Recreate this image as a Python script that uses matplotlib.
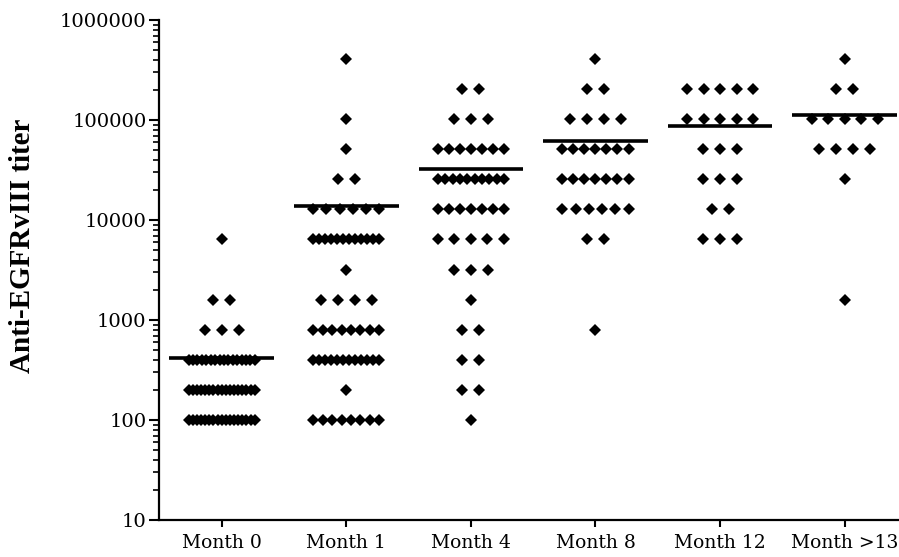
import numpy as np
import matplotlib.pyplot as plt
from matplotlib.ticker import LogLocator, FixedLocator, NullFormatter

# titer dilution steps and how many patients sit at each step, per visit
titers = [100, 200, 400, 800, 1600, 3200, 6400, 12800, 25600, 51200, 102400, 204800, 409600]
groups = ["Month 0", "Month 1", "Month 4", "Month 8", "Month 12", "Month >13"]

month0 = [17, 17, 16, 3, 2, 0, 1, 0, 0, 0, 0, 0, 0]
month1 = [8, 1, 12, 8, 4, 1, 12, 6, 2, 1, 1, 0, 1]
month4 = [1, 2, 2, 2, 1, 3, 5, 7, 10, 7, 3, 2, 0]
month8 = [0, 0, 0, 1, 0, 0, 2, 6, 7, 7, 4, 2, 1]
month12 = [0, 0, 0, 0, 0, 0, 3, 2, 3, 3, 5, 5, 0]
month13 = [0, 0, 0, 0, 1, 0, 0, 0, 1, 4, 5, 2, 1]

counts = [month0, month1, month4, month8, month12, month13]

STEP = 0.136      # spacing between neighbouring points in a row
MAX_WIDTH = 0.53  # widest a row is allowed to spread
HALF_LINE = 0.42  # half-width of the mean bar

fig = plt.figure(figsize=(8.99, 5.57), dpi=100)
ax = fig.add_axes([0.1769, 0.0664, 0.8231, 0.8976])

for i, cnt in enumerate(counts):
    xs, ys = [], []
    for t, n in zip(titers, cnt):
        if n == 0:
            continue
        step = STEP if n < 2 else min(STEP, MAX_WIDTH / (n - 1))
        offs = (np.arange(n) - (n - 1) / 2.0) * step
        xs.extend(i + offs)
        ys.extend([t] * n)
    ax.plot(xs, ys, linestyle="none", marker="D", markersize=6.6,
            color="black", markeredgewidth=0)
    mean = np.sum(np.array(titers) * np.array(cnt)) / np.sum(cnt)
    ax.plot([i - HALF_LINE, i + HALF_LINE], [mean, mean], color="black",
            linewidth=2.6, solid_capstyle="butt")

ax.set_yscale("log")
ax.set_ylim(10, 1000000)
ax.set_xlim(-0.503, 5.436)

ax.yaxis.set_major_locator(FixedLocator([10, 100, 1000, 10000, 100000, 1000000]))
ax.yaxis.set_minor_locator(LogLocator(base=10, subs=np.arange(2, 10)))
ax.yaxis.set_minor_formatter(NullFormatter())
ax.set_yticklabels(["10", "100", "1000", "10000", "100000", "1000000"])

ax.set_xticks(range(len(groups)))
ax.set_xticklabels(groups)

for side in ("top", "right"):
    ax.spines[side].set_visible(False)
for side in ("left", "bottom"):
    ax.spines[side].set_linewidth(1.6)

ax.tick_params(axis="y", which="major", length=7, width=1.5, labelsize=14, pad=2)
ax.tick_params(axis="y", which="minor", length=4, width=1.2)
ax.tick_params(axis="x", which="major", length=5, width=1.5, labelsize=13.5, pad=5)

for lab in ax.get_xticklabels() + ax.get_yticklabels():
    lab.set_family("DejaVu Serif")

ax.set_ylabel("Anti-EGFRvIII titer", family="Liberation Serif", fontweight="bold",
              fontsize=21)
ax.yaxis.set_label_coords(-0.166, 0.548)

fig.savefig("out.png", dpi=100)
